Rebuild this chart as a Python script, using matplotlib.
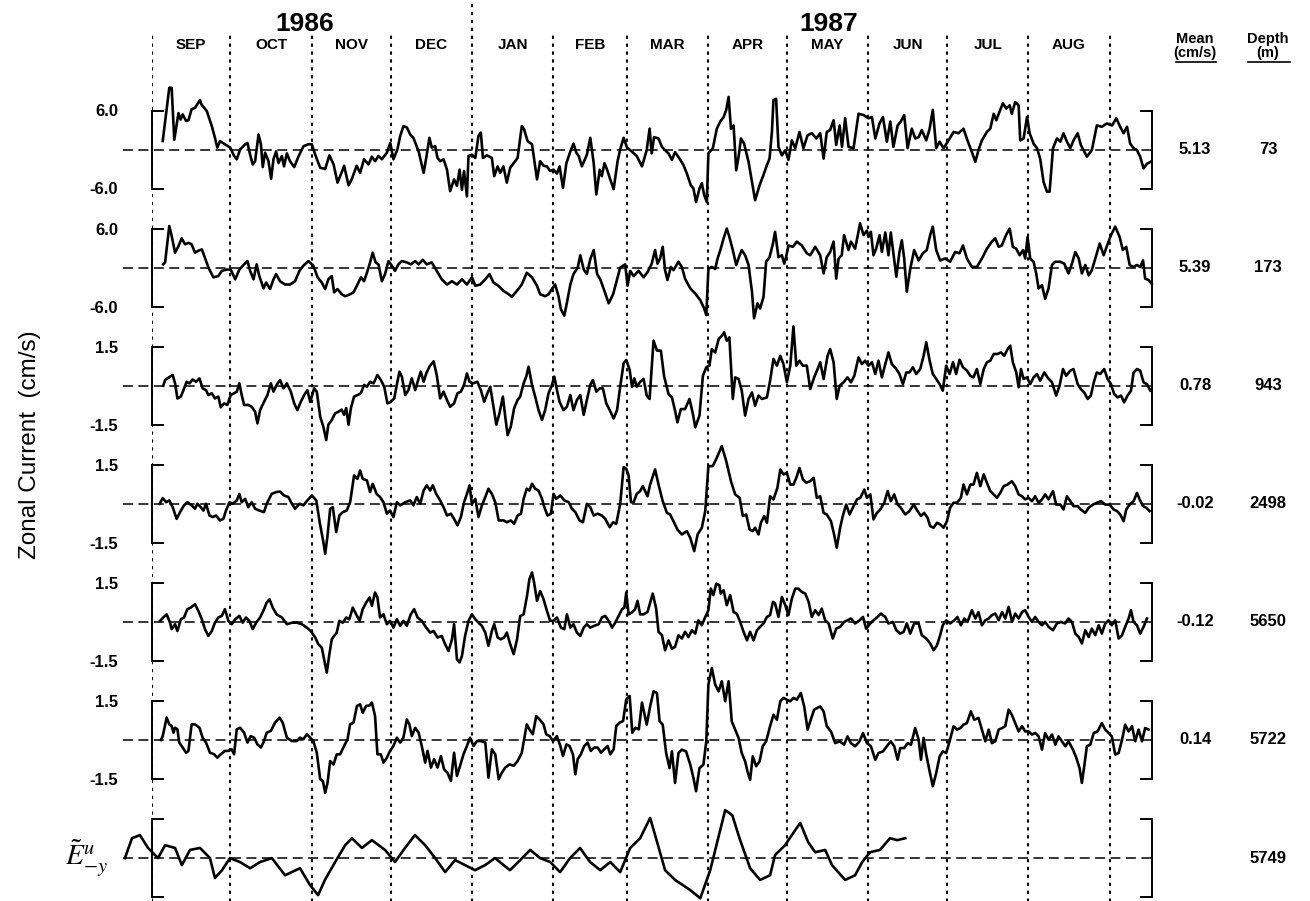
import numpy as np
import matplotlib.pyplot as plt

plt.rcParams['font.family'] = ['Liberation Sans', 'DejaVu Sans']
plt.rcParams['mathtext.fontset'] = 'stix'

# time axis: days since 1 Sep 1986
months = ['SEP', 'OCT', 'NOV', 'DEC', 'JAN', 'FEB', 'MAR', 'APR', 'MAY', 'JUN', 'JUL', 'AUG']
month_starts = [0, 30, 61, 91, 122, 153, 181, 212, 242, 273, 303, 334, 365]
day_end = 381

depths = ['73', '173', '943', '2498', '5650', '5722', '5749']
means = ['5.13', '5.39', '0.78', '-0.02', '-0.12', '0.14', '']
limits = [6.0, 6.0, 1.5, 1.5, 1.5, 1.5, 1.0]
tick_labels = [['-6.0', '6.0'], ['-6.0', '6.0'], ['-1.5', '1.5'], ['-1.5', '1.5'],
               ['-1.5', '1.5'], ['-1.5', '1.5'], None]

# (day, zonal current anomaly cm/s)
u_73 = [(4.2,1.3),(6.7,9.5),(7.6,9.5),(8.6,1.5),(10.2,5.6),(11.0,4.6),(11.8,5.4),(13.1,4.4),(14.0,4.5),(15.2,6.2),(16.5,6.4),(18.4,7.6),(19.0,6.9),(21.0,5.9),(22.9,3.6),(24.1,1.8),(25.0,0.3),(26.0,1.3),(27.9,0.8),(29.9,0.3),(31.4,-1.0),(32.4,-1.5),(33.7,0.0),(35.6,0.8),(36.5,1.0),(37.5,-0.8),(38.5,-2.3),(39.4,-1.8),(40.7,2.3),(41.6,0.8),(42.3,-2.7),(43.2,-0.5),(44.5,-1.8),(45.5,-4.5),(46.4,-1.5),(47.4,-0.3),(48.3,-2.1),(49.6,-1.0),(50.4,-2.6),(51.5,-0.6),(52.7,-1.8),(54.3,-2.7),(55.9,-1.1),(57.8,0.5),(59.7,0.8),(61.0,0.8),(62.3,-0.8),(64.2,-2.8),(66.1,-3.0),(67.7,-0.9),(69.3,-2.3),(70.8,-5.1),(72.4,-3.5),(73.3,-2.5),(75.0,-5.5),(76.2,-4.6),(78.1,-2.5),(79.4,-3.6),(80.9,-1.5),(82.6,-2.3),(83.9,-1.1),(85.1,-1.8),(86.4,-1.0),(87.7,-1.5),(89.6,-0.5),(90.9,1.0),(92.1,-1.5),(93.6,0.0),(94.7,2.1),(95.9,3.6),(97.2,3.4),(98.5,2.3),(99.7,1.8),(101.7,-0.3),(103.6,-3.6),(104.6,-1.3),(105.8,1.8),(106.7,0.3),(108.0,0.5),(108.9,-1.3),(109.9,-1.8),(111.2,-1.5),(112.5,-3.1),(113.7,-6.4),(115.2,-4.6),(116.3,-5.6),(117.3,-3.1),(118.2,-6.2),(119.0,-3.3),(120.1,-7.2),(120.7,-1.0),(122.0,-0.8),(123.3,-1.3),(124.5,2.1),(125.4,2.6),(126.2,-1.3),(127.7,-0.9),(129.6,-1.3),(130.5,-4.1),(131.8,-2.6),(132.8,-3.6),(134.0,-2.6),(135.3,-5.1),(136.6,-2.8),(137.9,-2.1),(139.4,-1.3),(141.0,3.6),(141.9,3.1),(143.2,1.3),(144.9,0.8),(146.1,-2.6),(146.8,-4.6),(148.0,-1.8),(149.3,-2.5),(150.6,-2.6),(151.8,-3.3),(153.1,-3.1),(154.4,-3.7),(155.4,-2.6),(156.7,-5.9),(158.0,-2.1),(159.5,-0.3),(160.7,0.9),(161.8,-0.5),(162.7,-1.0),(163.9,-2.6),(165.8,-0.8),(167.1,1.8),(168.4,-2.1),(169.4,-6.9),(170.7,-3.1),(171.5,-4.1),(172.5,-2.1),(173.5,-3.1),(174.7,-4.6),(176.0,-6.1),(177.5,-1.8),(178.5,0.0),(179.8,1.8),(181.1,0.3),(182.9,-0.3),(184.8,-1.0),(186.8,-2.6),(188.6,-0.1),(189.7,3.2),(190.5,-0.6),(191.4,1.9),(193.1,1.7),(194.4,0.4),(195.6,-0.1),(196.9,-0.6),(198.2,-1.6),(199.4,-0.4),(201.1,-1.4),(202.6,-2.4),(203.9,-3.7),(205.4,-5.5),(206.4,-6.0),(207.4,-8.1),(208.7,-6.0),(209.6,-5.2),(210.5,-7.0),(211.5,-8.1),(212.1,-0.6),(213.8,0.2),(215.3,3.2),(216.6,4.3),(217.9,5.0),(218.9,6.1),(219.8,8.1),(220.7,3.2),(221.7,3.7),(222.7,-3.2),(223.6,-1.1),(224.5,1.7),(225.7,0.9),(227.4,-1.9),(228.7,-5.0),(229.9,-7.8),(231.6,-5.5),(233.1,-3.9),(234.4,-2.4),(235.4,-1.4),(236.3,2.7),(236.9,7.6),(237.9,7.8),(238.8,0.4),(240.1,-0.9),(241.4,-0.1),(242.6,-1.6),(243.9,1.4),(245.2,0.2),(246.8,2.7),(248.3,0.2),(249.9,2.2),(251.5,2.5),(253.2,1.7),(254.7,2.5),(256.0,-1.4),(257.2,2.7),(258.5,3.0),(259.8,4.5),(260.8,0.7),(262.1,3.7),(263.0,0.4),(264.2,4.8),(265.5,0.4),(267.4,0.2),(269.3,5.5),(271.2,5.3),(273.1,4.8),(274.4,5.0),(275.7,1.7),(277.3,4.0),(278.6,5.0),(280.1,1.2),(281.4,4.3),(282.6,0.4),(284.2,3.7),(285.4,4.3),(286.7,5.3),(288.0,0.2),(289.6,3.2),(290.9,1.7),(292.2,1.9),(293.4,3.0),(295.1,1.4),(296.4,3.2),(297.6,6.1),(298.9,0.2),(300.2,1.2),(301.7,0.2),(303.6,1.4),(305.5,2.7),(307.4,2.5),(309.3,3.2),(310.8,1.4),(312.5,-0.4),(313.8,-1.9),(315.0,-0.1),(316.3,1.4),(318.2,2.7),(319.5,3.2),(320.8,5.5),(321.8,4.5),(323.0,5.8),(324.3,7.1),(325.6,6.3),(326.9,6.8),(327.7,5.5),(329.0,7.3),(330.3,6.8),(330.9,1.4),(332.2,1.7),(333.5,5.0),(334.5,2.5),(336.0,0.9),(337.3,0.2),(338.5,-1.4),(339.8,-5.0),(341.1,-6.5),(342.1,-6.5),(343.4,0.2),(344.9,1.7),(346.2,1.2),(347.4,2.5),(348.7,1.2),(350.0,0.2),(351.2,1.4),(352.8,2.5),(354.0,0.7),(356.3,-1.1),(358.2,-0.1),(360.1,3.7),(362.0,3.5),(363.9,4.0),(365.9,3.7),(367.5,4.8),(369.0,3.5),(370.3,2.5),(371.6,3.5),(372.8,0.9),(374.1,0.2),(375.4,-0.1),(376.6,-1.1),(377.9,-2.9),(379.2,-2.2),(380.5,-1.9)]

u_173 = [(4.4,0.5),(5.1,0.8),(6.7,6.4),(7.6,4.9),(8.9,2.3),(10.2,3.3),(11.4,4.5),(12.7,3.6),(14.0,3.8),(15.2,3.6),(16.5,2.3),(17.8,2.6),(19.1,2.8),(20.3,1.5),(21.6,0.0),(23.5,-1.5),(25.4,-1.3),(26.7,-0.5),(28.6,-0.3),(30.1,-0.3),(31.8,-1.8),(33.4,-0.3),(35.2,0.5),(36.5,1.0),(37.5,-0.5),(38.8,-1.8),(40.0,0.5),(41.0,-1.3),(42.6,-3.2),(43.6,-2.3),(45.1,-3.3),(46.4,-1.8),(47.4,-1.0),(48.9,-2.1),(50.8,-2.6),(52.7,-2.6),(54.6,-2.1),(56.3,-0.5),(57.8,0.3),(59.7,1.0),(61.6,0.3),(63.2,-1.5),(64.8,-2.3),(66.1,-3.3),(67.3,-1.8),(68.6,-1.3),(69.5,-3.8),(70.8,-3.3),(72.4,-4.1),(73.7,-4.4),(75.6,-4.1),(76.9,-3.8),(78.4,-2.6),(79.7,-1.5),(80.9,-2.1),(82.0,-0.8),(83.0,0.5),(84.2,2.3),(85.3,0.8),(86.4,0.5),(87.7,-2.1),(88.9,-1.0),(90.2,1.0),(91.5,0.3),(92.7,-0.5),(94.0,0.5),(95.3,1.0),(97.2,0.8),(98.7,0.5),(100.4,1.0),(101.7,0.5),(103.3,1.2),(104.8,0.5),(106.7,0.8),(108.6,-0.5),(110.5,-1.8),(112.5,-2.6),(114.4,-2.1),(116.3,-2.6),(118.2,-1.8),(120.1,-2.6),(122.0,-1.5),(123.3,-2.8),(125.2,-2.6),(127.1,-1.8),(128.7,-1.0),(130.2,-2.3),(132.1,-2.8),(134.1,-3.6),(136.0,-4.1),(137.2,-4.5),(139.1,-3.6),(141.0,-2.6),(142.9,-0.8),(144.9,-1.5),(146.8,-2.8),(148.0,-4.1),(149.9,-4.4),(151.2,-4.1),(152.5,-3.3),(153.7,-2.6),(155.0,-4.4),(155.9,-6.4),(157.2,-7.4),(158.2,-5.4),(159.5,-2.6),(160.7,-1.0),(162.3,0.0),(163.3,1.9),(164.6,-0.3),(165.8,-1.0),(167.1,1.3),(168.4,2.7),(169.7,-1.0),(170.9,-1.8),(172.5,-3.6),(174.1,-5.5),(175.8,-4.1),(177.3,-1.8),(178.5,0.0),(180.4,0.5),(181.3,-2.8),(182.3,-0.5),(183.6,-1.3),(185.5,-0.5),(187.4,-1.5),(188.9,-0.7),(190.5,0.6),(191.8,2.7),(192.7,0.6),(193.7,1.4),(194.7,3.2),(195.6,-0.4),(196.5,-1.9),(197.8,0.1),(198.8,-0.4),(200.7,0.9),(202.0,0.1),(203.2,-1.7),(205.2,-3.2),(207.1,-4.0),(209.0,-5.0),(210.5,-6.3),(211.3,-7.3),(212.1,-0.2),(213.4,0.1),(214.7,-0.2),(215.6,1.4),(216.8,2.9),(217.9,4.5),(219.1,6.0),(220.1,4.7),(221.4,2.7),(222.7,0.4),(224.0,1.9),(224.8,2.7),(226.1,1.9),(227.4,0.4),(228.7,-3.7),(229.5,-7.8),(230.8,-5.5),(231.8,-6.3),(233.1,-4.5),(234.1,0.9),(235.4,1.6),(236.7,3.7),(237.5,5.5),(238.8,1.6),(240.1,1.9),(241.0,0.6),(241.7,1.6),(242.6,3.4),(244.3,3.2),(245.8,4.0),(247.7,3.4),(249.6,2.2),(250.9,1.9),(252.8,3.2),(254.7,1.9),(256.0,-0.9),(257.2,1.6),(258.5,2.4),(259.8,4.0),(260.8,-1.7),(261.7,1.4),(262.9,1.9),(263.8,5.0),(265.5,2.7),(266.4,4.0),(268.0,2.9),(269.9,6.8),(271.2,5.0),(272.5,5.7),(273.1,4.7),(274.0,5.5),(275.0,1.9),(276.0,2.9),(277.3,5.0),(278.2,2.4),(279.5,5.4),(280.7,1.9),(281.6,5.4),(282.6,2.2),(283.7,-1.4),(284.9,2.4),(285.8,4.2),(286.7,1.4),(287.7,-3.7),(289.0,-0.2),(290.5,2.7),(292.2,1.1),(293.8,2.2),(295.3,2.7),(296.6,5.0),(297.6,6.3),(298.9,2.7),(300.4,1.1),(302.3,1.4),(304.2,0.9),(306.1,2.4),(307.8,2.2),(309.1,3.4),(310.6,1.4),(312.5,0.1),(314.4,0.1),(316.3,1.4),(318.2,2.9),(320.1,4.0),(321.4,4.5),(322.7,3.2),(323.9,3.4),(325.5,5.0),(326.9,6.0),(328.1,3.2),(329.4,2.9),(330.7,1.9),(332.0,2.7),(332.8,1.4),(333.7,4.7),(334.7,1.4),(336.0,0.9),(337.0,-0.9),(337.9,-3.2),(339.2,-2.7),(340.4,-4.8),(341.7,-3.2),(343.0,0.4),(344.2,0.9),(346.2,0.9),(347.7,0.6),(349.3,-0.9),(350.6,0.6),(351.9,2.4),(353.2,1.4),(354.4,-0.9),(355.7,0.4),(357.0,-1.2),(358.2,-0.4),(359.5,1.4),(361.2,3.7),(362.7,1.9),(364.0,3.4),(365.5,5.0),(367.1,6.3),(368.8,4.7),(370.0,2.7),(371.3,3.2),(372.6,0.4),(373.9,0.1),(375.4,0.4),(376.6,0.1),(377.7,1.1),(378.5,-1.7),(379.8,-1.9),(381.0,-2.5)]

u_943 = [(4.4,0.0),(5.1,0.22),(7.0,0.35),(8.0,0.41),(8.9,0.09),(9.8,-0.49),(11.1,-0.42),(12.1,-0.17),(13.3,0.15),(14.4,0.09),(15.6,0.24),(16.9,0.15),(18.2,0.28),(19.4,-0.10),(20.7,-0.17),(21.6,-0.36),(22.9,-0.29),(24.1,-0.49),(25.4,-0.42),(26.3,-0.83),(27.6,-0.68),(28.8,-0.74),(30.1,-0.36),(31.4,-0.29),(32.4,-0.23),(33.4,0.09),(34.3,-0.36),(35.2,-0.74),(36.8,-0.74),(38.1,-0.81),(39.4,-1.0),(40.3,-1.45),(41.3,-0.94),(42.8,-0.62),(44.1,-0.36),(45.4,0.09),(46.4,-0.23),(47.6,0.03),(48.9,0.22),(50.2,-0.10),(51.5,0.09),(53.0,-0.23),(54.3,-0.68),(55.5,-0.94),(56.8,-0.62),(58.1,-0.36),(59.3,-0.17),(60.4,-0.62),(61.9,-0.10),(62.9,-0.23),(64.2,-1.19),(65.4,-1.58),(66.5,-2.09),(67.3,-1.5),(68.6,-1.32),(69.9,-1.06),(71.2,-1.0),(72.4,-0.92),(73.3,-1.12),(74.1,-0.86),(75.0,-1.5),(75.9,-0.86),(77.1,-0.42),(78.4,-0.36),(79.7,-0.29),(80.9,0.03),(82.0,-0.04),(83.2,0.15),(84.5,0.09),(86.0,0.41),(87.3,0.22),(88.6,-0.04),(89.8,-0.68),(91.1,-0.62),(92.4,-0.49),(93.6,0.15),(94.4,0.54),(95.3,0.35),(96.6,-0.36),(97.8,-0.17),(99.1,0.28),(100.4,-0.17),(101.7,0.28),(102.5,0.54),(103.6,0.15),(104.6,0.47),(105.8,0.73),(107.4,0.94),(108.6,0.41),(109.9,-0.49),(111.2,-0.23),(112.5,-0.55),(113.7,-0.81),(115.2,-0.68),(116.5,-0.29),(117.8,-0.23),(119.0,0.03),(120.1,0.47),(121.1,0.15),(122.4,0.09),(124.1,0.15),(125.4,-0.17),(126.7,-0.62),(127.9,-0.29),(129.0,-0.04),(130.0,-0.68),(131.3,-1.5),(132.5,-1.06),(133.8,-0.42),(134.7,-1.19),(135.6,-1.9),(136.8,-1.58),(138.1,-0.86),(139.4,-0.55),(140.4,-0.42),(141.7,0.09),(142.7,0.35),(143.6,0.73),(144.9,0.03),(146.1,-0.42),(147.4,-0.94),(148.7,-1.32),(149.9,-0.94),(151.2,-0.29),(152.5,0.03),(153.4,0.35),(154.4,-0.17),(155.4,-0.62),(156.9,-0.94),(158.2,-0.81),(159.5,-0.36),(160.7,-0.94),(162.0,-0.55),(163.3,-0.36),(164.6,-1.12),(165.8,-0.55),(167.1,0.03),(168.1,0.22),(169.4,-0.23),(170.7,-0.10),(171.9,-0.10),(173.2,-0.68),(174.5,-0.94),(176.0,-1.26),(177.3,-0.94),(178.5,-0.04),(179.8,0.86),(180.8,0.99),(182.1,0.61),(183.0,-0.04),(183.9,0.28),(184.8,-0.04),(186.1,0.15),(187.4,0.26),(188.6,-0.38),(189.7,-0.51),(191.2,1.73),(192.5,1.35),(194.0,1.35),(195.2,0.38),(196.9,-0.32),(198.2,-0.45),(199.4,-0.96),(200.3,-1.41),(201.6,-0.90),(203.2,-0.90),(204.9,-0.51),(206.2,-1.09),(207.1,-1.60),(208.7,-1.15),(210.0,0.38),(211.3,0.71),(212.5,0.77),(213.4,1.41),(214.7,1.28),(216.0,1.79),(217.2,1.92),(218.1,2.05),(219.1,1.73),(220.1,1.86),(221.4,-0.51),(222.3,0.32),(223.6,0.26),(224.8,-0.19),(226.1,-1.15),(227.4,-0.51),(228.7,-0.26),(229.9,-0.77),(231.2,-0.38),(232.5,-0.51),(234.4,-0.45),(235.6,0.19),(236.9,1.03),(238.2,0.77),(239.5,1.15),(240.7,0.83),(242.0,0.13),(243.3,0.77),(244.5,2.28),(245.6,0.77),(246.8,0.96),(248.1,0.77),(249.6,0.77),(250.9,-0.13),(252.4,0.32),(253.7,0.64),(254.7,0.90),(256.0,0.26),(257.5,1.15),(258.5,1.41),(259.8,0.90),(261.0,-0.51),(262.1,0.0),(263.6,0.13),(265.1,0.32),(266.4,0.13),(267.7,0.38),(269.3,1.09),(270.6,0.83),(271.8,0.96),(273.1,0.77),(274.4,0.90),(275.7,0.45),(276.9,0.96),(278.2,0.32),(279.5,0.83),(280.7,1.28),(282.0,0.83),(283.7,0.64),(284.9,0.45),(286.2,0.06),(287.5,0.51),(288.7,0.51),(290.0,0.71),(291.3,0.45),(292.8,0.64),(294.1,1.15),(295.1,1.67),(296.4,0.96),(297.6,0.45),(298.9,0.26),(300.2,0.06),(301.4,-0.19),(302.7,0.77),(304.0,0.45),(305.3,0.90),(306.5,0.45),(307.8,1.0),(309.1,0.71),(310.6,0.58),(311.9,0.38),(313.1,0.32),(314.4,0.64),(315.7,0.06),(317.0,0.64),(318.2,0.90),(319.5,0.96),(320.8,1.22),(322.3,1.22),(323.6,1.28),(324.8,1.15),(326.1,1.41),(327.1,1.54),(328.1,0.90),(329.4,0.51),(330.3,-0.06),(331.2,0.64),(332.2,0.26),(333.5,0.32),(334.7,0.06),(336.0,0.32),(337.3,0.45),(338.5,0.19),(340.1,0.51),(341.3,0.32),(343.0,0.13),(344.6,-0.38),(345.9,0.0),(347.2,0.64),(348.4,0.38),(350.0,0.58),(351.2,0.64),(352.8,0.06),(354.0,-0.13),(355.3,-0.26),(356.6,-0.51),(357.8,-0.38),(359.1,0.19),(360.1,0.51),(361.4,0.45),(362.9,0.64),(364.2,0.26),(365.5,0.06),(366.7,-0.32),(368.0,-0.45),(369.3,-0.38),(370.5,-0.64),(371.8,-0.38),(373.1,-0.19),(374.1,0.51),(375.4,0.64),(376.6,0.58),(377.9,0.13),(379.2,0.06),(380.5,-0.19)]

u_2498 = [(3.0,0.0),(4.2,0.22),(5.5,0.06),(6.7,0.13),(8.0,-0.13),(9.5,-0.58),(10.8,-0.32),(12.3,-0.06),(13.6,0.06),(15.2,-0.06),(16.5,-0.19),(17.4,0.0),(18.7,-0.13),(19.7,-0.26),(20.7,0.0),(22.0,-0.45),(23.3,-0.51),(24.5,-0.45),(26.0,-0.64),(27.3,-0.58),(28.3,-0.26),(29.6,0.06),(30.9,0.0),(32.4,0.13),(33.4,0.38),(34.3,0.06),(35.6,0.19),(36.8,-0.13),(38.1,0.06),(39.4,-0.19),(41.0,-0.26),(42.8,-0.32),(43.8,0.0),(45.7,0.38),(47.4,0.45),(48.9,0.47),(50.4,0.32),(52.1,0.26),(53.4,0.0),(54.6,-0.19),(56.3,0.0),(57.8,-0.06),(59.3,0.13),(61.0,0.32),(62.7,0.13),(64.0,-0.71),(65.4,-1.47),(66.1,-1.92),(67.0,-1.22),(68.0,-0.19),(69.0,-0.13),(70.3,-1.09),(71.5,-0.45),(72.8,-0.32),(74.3,-0.26),(75.6,0.06),(77.1,1.09),(78.4,0.96),(79.4,1.28),(80.4,0.96),(82.0,0.90),(83.2,0.45),(84.2,0.77),(85.7,0.38),(87.0,0.26),(88.3,0.06),(89.6,-0.38),(90.8,-0.26),(92.1,-0.51),(93.4,0.06),(94.7,-0.06),(96.6,0.06),(98.5,0.13),(99.7,-0.06),(101.0,0.26),(102.3,0.0),(103.6,0.51),(104.8,0.71),(106.1,0.51),(107.1,0.71),(108.4,0.38),(109.9,0.13),(111.2,-0.13),(112.5,-0.45),(114.0,-0.38),(115.2,-0.58),(116.5,-0.83),(117.8,-0.51),(119.0,0.06),(120.1,0.38),(121.1,0.71),(122.0,0.0),(123.3,0.19),(124.5,-0.51),(125.8,-0.06),(127.1,0.26),(128.3,0.58),(129.6,0.38),(130.9,0.06),(132.2,-0.64),(134.1,-0.64),(135.3,-0.71),(136.8,-0.64),(138.1,-0.77),(139.4,-0.45),(140.7,-0.38),(141.7,0.19),(142.9,0.58),(143.9,0.51),(144.9,0.77),(146.1,0.58),(147.4,0.51),(148.7,0.19),(149.6,-0.13),(150.8,-0.45),(152.1,-0.38),(153.1,0.38),(154.1,0.19),(155.7,0.32),(157.2,0.13),(158.9,0.06),(160.1,-0.19),(161.4,-0.32),(163.0,-0.64),(164.3,-0.71),(165.8,0.0),(167.1,-0.13),(168.4,-0.45),(169.9,-0.38),(171.5,-0.45),(172.8,-0.58),(174.5,-0.90),(175.8,-0.71),(177.0,-0.77),(178.5,0.0),(179.8,1.41),(180.8,1.35),(181.7,1.09),(182.6,0.06),(183.6,0.06),(184.8,0.38),(186.1,0.49),(187.1,0.68),(188.9,0.29),(189.9,0.74),(191.8,1.32),(193.1,0.74),(194.7,0.10),(196.3,-0.35),(197.5,-0.41),(198.8,-0.67),(200.3,-0.99),(202.0,-1.18),(203.9,-1.05),(205.2,-1.31),(206.7,-1.82),(208.0,-1.18),(209.6,-0.92),(210.9,-0.28),(212.1,1.45),(213.8,1.45),(215.3,1.77),(217.2,2.22),(218.9,1.64),(220.7,0.87),(222.3,0.36),(224.0,0.23),(225.2,-0.47),(226.5,-0.41),(227.8,-0.99),(229.0,-1.05),(229.9,-0.92),(231.2,-1.18),(232.1,-0.73),(233.4,-0.47),(234.4,-0.73),(235.6,0.29),(236.9,0.17),(238.4,0.62),(239.5,1.32),(240.7,1.13),(242.0,1.19),(243.3,0.74),(244.5,0.74),(245.6,1.0),(246.8,1.38),(248.1,0.94),(249.4,0.81),(250.9,0.87),(252.2,1.0),(253.4,0.23),(254.7,0.29),(256.0,-0.35),(257.2,-0.41),(258.8,-0.67),(260.0,-1.18),(261.0,-1.69),(262.3,-0.92),(263.3,-0.47),(264.6,-0.03),(265.9,-0.41),(267.4,-0.09),(268.7,0.17),(270.0,0.23),(271.5,0.55),(272.5,0.23),(273.8,0.36),(275.0,-0.60),(276.3,-0.35),(277.6,-0.22),(279.1,0.04),(280.4,0.49),(281.6,0.10),(282.9,0.36),(284.2,-0.03),(285.4,-0.15),(287.1,-0.41),(288.7,-0.28),(290.3,-0.03),(291.8,-0.28),(293.1,-0.47),(294.3,-0.35),(295.6,-0.54),(296.6,-0.86),(297.9,-0.92),(299.2,-0.73),(300.4,-0.79),(301.7,-0.92),(303.0,-0.67),(304.2,-0.15),(305.5,0.04),(306.8,0.04),(308.3,0.23),(309.3,0.74),(310.6,0.36),(311.9,0.74),(313.1,0.74),(314.4,1.19),(315.7,0.68),(317.0,1.13),(318.2,0.81),(319.5,0.49),(320.8,0.36),(322.0,0.23),(323.3,0.42),(324.6,0.68),(326.1,0.74),(327.7,0.87),(329.0,0.68),(330.3,0.36),(331.6,0.29),(332.8,0.17),(334.1,0.23),(335.4,0.10),(336.6,0.29),(337.9,0.04),(339.2,0.17),(340.4,0.36),(341.7,0.17),(343.4,0.49),(344.6,-0.03),(346.2,-0.03),(347.4,-0.22),(348.7,0.29),(350.0,0.10),(351.2,-0.09),(352.8,-0.09),(354.0,-0.22),(355.7,-0.35),(357.0,-0.15),(358.6,-0.03),(360.1,0.04),(361.7,0.10),(363.3,-0.03),(365.0,-0.03),(366.5,-0.22),(367.8,-0.28),(369.0,-0.41),(370.3,-0.67),(371.3,-0.22),(372.6,-0.03),(374.1,0.10),(375.4,0.42),(376.4,0.17),(377.7,-0.09),(378.9,-0.15),(380.2,-0.28)]

u_5650 = [(3.2,0.04),(4.4,0.17),(5.7,0.29),(7.0,-0.03),(7.6,-0.28),(8.9,-0.09),(9.8,-0.35),(11.1,0.10),(12.3,0.17),(13.6,0.49),(14.9,0.55),(16.5,0.68),(17.8,0.42),(19.1,0.10),(20.3,-0.28),(21.6,-0.54),(22.9,-0.35),(24.1,-0.03),(25.4,0.17),(26.7,0.23),(27.9,0.49),(29.2,0.04),(30.5,-0.09),(31.8,0.10),(33.4,0.23),(34.7,-0.03),(35.9,0.17),(37.2,0.04),(38.5,-0.28),(39.8,-0.03),(41.3,0.17),(42.8,0.49),(43.8,0.74),(44.9,0.87),(46.1,0.55),(47.6,0.29),(49.6,0.17),(51.5,-0.09),(53.4,-0.03),(55.3,-0.03),(57.2,-0.09),(59.1,-0.22),(60.6,-0.35),(62.3,-0.60),(63.5,-0.86),(64.8,-0.99),(65.7,-1.44),(66.7,-1.95),(67.7,-1.24),(68.6,-0.67),(69.5,-0.54),(70.5,-0.41),(71.5,0.04),(72.8,-0.03),(74.1,0.17),(75.3,0.10),(76.6,0.55),(77.9,0.29),(79.2,0.04),(80.4,0.49),(81.7,0.74),(83.0,0.94),(83.9,0.62),(85.1,1.13),(86.0,0.94),(87.0,0.17),(88.3,0.29),(89.6,-0.09),(90.8,0.04),(92.1,-0.22),(93.4,0.10),(94.7,-0.15),(95.9,0.04),(97.2,-0.15),(98.7,0.29),(100.0,0.49),(101.3,0.17),(102.9,0.04),(104.6,-0.22),(106.1,-0.41),(107.4,-0.35),(108.9,-0.60),(110.5,-0.54),(111.8,-0.86),(113.1,-1.12),(114.4,-0.67),(115.2,-0.09),(116.3,-1.44),(117.3,-1.56),(118.2,-1.31),(119.4,-0.54),(120.7,0.04),(122.0,0.29),(123.3,0.10),(124.5,-0.03),(125.8,-0.15),(127.1,-0.41),(128.3,-0.92),(129.6,-0.35),(130.5,-0.09),(131.8,-0.60),(133.0,-0.67),(134.3,-0.60),(135.3,-0.41),(136.6,-0.86),(137.9,-1.24),(139.2,-0.67),(140.4,0.23),(141.7,0.29),(143.0,1.0),(143.9,1.64),(144.9,1.90),(145.7,1.51),(146.8,0.81),(148.0,1.19),(149.3,0.87),(150.6,0.42),(151.8,0.04),(153.1,0.04),(154.4,0.17),(155.9,-0.22),(157.2,-0.28),(158.2,0.29),(159.5,-0.22),(160.7,-0.09),(162.0,-0.41),(163.3,-0.54),(164.6,-0.22),(165.8,-0.09),(167.1,-0.22),(168.6,-0.15),(170.3,-0.09),(171.5,0.17),(172.8,0.23),(174.1,0.04),(175.4,-0.22),(176.6,-0.03),(177.9,0.23),(179.2,0.49),(180.1,0.55),(180.8,1.13),(181.7,0.29),(182.9,0.36),(184.2,0.49),(185.1,0.81),(186.1,0.29),(187.4,0.29),(188.9,0.38),(190.9,1.09),(192.2,0.51),(193.1,-0.38),(194.4,-0.51),(195.6,-1.09),(196.9,-0.71),(198.2,-1.03),(199.4,-0.96),(200.7,-0.51),(202.0,-0.64),(203.2,-0.38),(204.5,-0.58),(205.8,-0.32),(207.1,-0.45),(208.3,0.06),(209.6,-0.13),(210.9,0.19),(212.1,0.45),(213.0,1.28),(214.0,1.03),(215.1,1.47),(216.3,1.41),(216.8,1.09),(217.9,1.22),(219.1,0.64),(220.4,1.03),(221.7,0.38),(222.9,0.32),(224.2,0.0),(225.5,-0.38),(226.8,-0.71),(228.0,-0.38),(229.3,-0.71),(230.6,-0.32),(231.8,-0.19),(233.1,-0.06),(234.4,0.19),(235.6,0.26),(236.7,0.77),(237.5,0.71),(238.8,0.19),(240.1,0.96),(241.4,0.64),(242.6,0.26),(243.9,0.90),(245.2,1.28),(246.4,1.28),(247.7,1.15),(249.0,1.09),(250.3,0.77),(251.5,0.19),(252.8,0.45),(254.1,0.26),(255.3,0.51),(256.6,0.06),(257.9,-0.06),(259.5,-0.64),(260.8,-0.26),(262.3,-0.19),(263.8,0.0),(265.1,0.06),(266.4,0.13),(268.0,-0.06),(269.7,0.06),(271.0,0.19),(272.2,-0.26),(273.8,-0.06),(275.0,0.06),(276.5,0.19),(277.8,0.32),(279.5,0.19),(280.7,-0.06),(282.4,0.0),(283.7,-0.32),(285.2,-0.45),(286.5,-0.38),(287.7,-0.06),(289.0,-0.45),(290.5,-0.06),(292.2,-0.06),(293.4,-0.51),(295.1,-0.64),(296.6,-0.83),(297.9,-1.09),(299.2,-0.90),(300.4,-0.51),(301.4,-0.13),(302.7,0.06),(304.2,-0.06),(305.8,0.06),(307.0,0.19),(308.3,-0.13),(309.6,0.13),(310.8,0.0),(312.5,0.45),(313.8,0.13),(315.0,0.38),(316.3,-0.13),(317.6,0.06),(318.9,0.13),(320.1,0.26),(321.4,0.32),(322.7,0.06),(324.0,0.38),(325.2,0.13),(326.5,0.58),(327.8,0.0),(329.0,0.32),(330.3,0.13),(331.6,0.38),(332.8,0.45),(334.1,0.19),(335.4,0.0),(336.6,0.19),(337.9,0.0),(339.2,-0.13),(340.4,0.0),(341.7,-0.19),(343.4,-0.32),(344.9,-0.06),(346.4,0.0),(348.0,-0.06),(349.3,0.13),(350.6,0.0),(351.9,-0.45),(353.2,-0.58),(354.4,-0.83),(355.7,-0.32),(357.0,-0.58),(358.2,-0.26),(359.5,-0.51),(360.8,-0.13),(362.0,-0.45),(363.3,-0.06),(364.6,0.06),(365.8,-0.13),(367.1,0.06),(368.4,-0.64),(369.7,-0.51),(370.9,-0.19),(372.2,0.13),(373.1,0.45),(374.1,0.0),(375.4,-0.13),(376.6,-0.45),(377.9,-0.19),(379.2,0.13)]

u_5722 = [(3.5,0.0),(4.2,0.15),(5.7,0.86),(6.7,0.60),(7.6,0.54),(8.3,0.28),(8.9,0.47),(9.8,0.41),(10.5,-0.10),(11.8,-0.29),(13.1,-0.49),(14.0,-0.42),(15.2,0.60),(16.5,0.60),(18.2,0.47),(19.4,0.09),(20.7,-0.10),(22.2,-0.49),(23.8,-0.55),(25.0,-0.68),(26.3,-0.55),(27.9,-0.42),(29.2,-0.42),(30.5,-0.36),(31.4,-0.55),(32.4,0.41),(33.7,0.47),(35.2,0.28),(36.5,-0.10),(37.7,0.15),(39.0,0.09),(40.3,-0.17),(41.6,-0.29),(42.8,-0.04),(43.8,0.28),(45.4,0.35),(47.0,0.67),(48.7,0.86),(49.9,0.67),(51.5,0.09),(53.4,-0.04),(55.3,-0.04),(56.5,0.09),(57.8,0.03),(59.1,0.22),(60.4,0.09),(61.6,-0.04),(62.9,-0.49),(64.2,-1.51),(65.2,-1.58),(66.1,-2.03),(67.0,-1.64),(68.0,-0.81),(69.3,-0.94),(70.5,-0.55),(71.8,-0.55),(73.3,-0.23),(74.6,0.03),(75.6,0.60),(76.9,0.67),(78.2,1.31),(79.4,1.37),(80.4,1.05),(81.7,1.31),(83.0,1.33),(83.9,1.44),(85.1,0.92),(86.0,-0.55),(87.3,-0.55),(88.3,-0.87),(89.6,-0.68),(90.8,-0.42),(92.1,-0.23),(93.4,0.09),(94.7,-0.10),(95.9,0.09),(97.2,0.79),(98.2,0.60),(99.1,0.15),(100.4,0.47),(101.7,0.28),(102.9,-0.23),(104.2,-0.87),(105.1,-0.42),(106.4,-1.06),(107.6,-0.74),(108.9,-1.06),(110.2,-0.62),(111.4,-1.13),(112.7,-1.26),(114.0,-1.58),(115.2,-0.49),(116.3,-1.38),(117.5,-0.99),(118.8,-0.55),(120.1,-0.23),(121.3,0.09),(122.6,-0.23),(123.9,-0.04),(125.4,-0.04),(127.1,-0.10),(128.3,-1.45),(129.6,-0.36),(130.9,-0.55),(132.2,-1.51),(133.4,-1.26),(134.7,-1.06),(136.3,-0.94),(137.9,-0.99),(139.4,-0.81),(141.0,-0.49),(141.9,0.03),(142.9,0.60),(143.9,0.41),(145.2,0.22),(146.5,0.92),(147.8,0.79),(149.3,0.60),(150.3,0.22),(151.6,0.15),(152.9,-0.04),(154.4,0.15),(155.7,-0.23),(156.7,-0.62),(158.0,-0.17),(159.2,-0.23),(160.5,-0.55),(161.4,-1.32),(162.3,-0.74),(163.5,-0.55),(164.8,-0.23),(166.1,-0.10),(167.3,-0.42),(168.6,-0.29),(169.9,-0.29),(171.2,-0.49),(172.4,-0.36),(173.7,-0.23),(174.7,-0.55),(176.0,-0.36),(177.0,0.54),(178.3,0.67),(179.6,0.73),(180.8,1.56),(182.1,1.69),(183.1,0.28),(184.3,0.47),(185.6,0.41),(186.8,1.44),(188.6,0.59),(189.9,1.29),(191.2,1.87),(192.5,1.81),(193.5,0.72),(194.7,0.59),(196.0,-0.50),(197.3,-1.08),(198.2,-0.44),(199.4,-1.65),(200.7,-0.50),(202.0,-0.37),(203.6,-0.44),(205.2,-0.95),(206.4,-1.46),(207.4,-1.97),(208.7,-1.08),(210.2,-0.95),(211.3,-0.05),(212.1,2.13),(213.4,2.77),(214.7,2.13),(216.0,1.87),(217.2,2.26),(218.5,1.49),(219.8,2.26),(221.0,0.72),(222.3,0.40),(223.6,0.08),(224.8,-0.50),(226.1,-0.82),(227.0,-1.21),(228.0,-1.53),(229.0,-0.63),(230.3,-1.01),(231.6,-0.82),(232.8,-0.24),(234.1,-0.05),(235.6,0.53),(236.9,0.97),(238.2,0.78),(239.5,1.49),(240.7,1.62),(242.0,1.55),(243.3,1.49),(244.5,1.62),(245.8,1.55),(247.3,1.81),(248.6,1.29),(249.9,0.40),(251.1,0.78),(252.4,1.17),(254.7,1.29),(256.0,1.10),(257.2,0.53),(258.8,0.33),(260.4,-0.12),(262.1,-0.05),(263.8,-0.18),(265.1,0.14),(266.4,-0.12),(268.0,-0.24),(269.7,-0.05),(271.0,0.27),(272.5,-0.12),(274.0,-0.24),(275.7,-0.76),(276.9,-0.50),(278.6,-0.44),(280.1,-0.24),(281.6,-0.05),(282.9,-0.24),(284.2,-0.76),(285.2,-0.31),(286.7,-0.31),(288.0,-0.12),(289.3,-0.18),(290.9,0.46),(292.2,0.01),(293.1,-0.76),(294.1,0.08),(295.1,-0.56),(296.4,-1.21),(297.6,-1.78),(298.9,-1.27),(300.2,-0.63),(301.4,-0.44),(302.7,-0.50),(304.0,-0.05),(305.5,0.53),(306.8,0.40),(308.1,0.46),(309.3,0.59),(310.6,0.65),(312.1,1.10),(313.4,0.78),(315.0,0.85),(316.3,0.40),(317.6,-0.05),(318.9,0.40),(320.1,-0.12),(321.4,-0.05),(322.7,0.40),(324.0,0.46),(325.2,0.53),(326.5,1.17),(327.7,0.97),(329.0,0.65),(330.3,0.33),(331.6,0.53),(332.8,0.33),(334.1,0.33),(335.4,0.21),(336.6,0.27),(337.9,0.14),(339.2,-0.37),(340.4,0.27),(341.7,0.01),(343.0,0.21),(344.3,-0.18),(345.5,0.14),(346.8,-0.05),(348.1,-0.24),(349.3,-0.05),(351.0,-0.37),(352.3,-0.69),(353.5,-1.08),(354.4,-1.65),(355.3,-1.01),(356.3,-0.24),(357.6,-0.18),(358.9,0.27),(360.4,0.33),(362.0,0.65),(363.3,0.40),(364.6,0.27),(365.8,0.14),(367.1,-0.56),(368.4,-0.50),(369.7,0.01),(370.9,0.59),(372.2,0.33),(373.5,0.53),(374.7,-0.05),(376.0,0.40),(377.3,-0.05),(378.5,0.46),(379.8,0.40)]

# estimated term, arbitrary units
e_5749 = [(-10.2,0.0),(-7.5,0.51),(-4.5,0.59),(-1.4,0.26),(2.4,0.0),(5.1,0.33),(8.9,0.26),(11.5,-0.18),(14.6,0.21),(18.4,0.26),(22.2,0.0),(24.1,-0.51),(26.8,-0.31),(29.8,0.0),(33.6,-0.10),(37.5,-0.26),(41.3,-0.10),(45.8,0.0),(50.8,-0.44),(56.5,-0.26),(60.3,-0.69),(63.4,-0.95),(66.0,-0.56),(69.9,-0.10),(73.7,0.33),(76.3,0.51),(80.1,0.26),(83.9,0.46),(88.9,0.21),(92.7,-0.10),(96.5,0.26),(100.3,0.59),(104.2,0.33),(108.0,0.0),(111.8,-0.36),(115.6,-0.05),(119.4,-0.18),(123.2,-0.31),(127.0,-0.18),(130.8,0.0),(136.5,-0.31),(140.4,-0.05),(144.2,0.21),(148.0,0.0),(151.8,-0.10),(155.6,-0.36),(159.4,0.0),(163.2,0.26),(167.0,-0.10),(170.9,-0.31),(174.7,-0.10),(178.5,-0.36),(182.3,0.26),(186.1,0.51),(189.9,1.03),(191.8,0.59),(195.6,-0.31),(199.4,-0.56),(205.2,-0.82),(209.0,-1.03),(212.8,-0.31),(216.6,0.72),(218.5,1.23),(221.2,1.10),(224.2,0.46),(228.0,-0.26),(231.8,-0.56),(235.6,-0.44),(237.5,0.08),(241.3,0.33),(245.2,0.72),(247.1,0.90),(250.1,0.41),(252.8,0.15),(256.6,0.21),(259.2,-0.18),(264.2,-0.56),(268.0,-0.44),(270.7,-0.10),(273.7,0.15),(277.5,0.21),(281.3,0.51),(284.0,0.46),(287.1,0.51)]

series = [u_73, u_173, u_943, u_2498, u_5650, u_5722, e_5749]

W, H = 1310, 901
fig = plt.figure(figsize=(W / 100, H / 100), dpi=100)

x_left, x_right = 151.7, 1151.7
ax_l = x_left / W
ax_w = (x_right - x_left) / W
row_c0, row_step, row_half = 149.5, 118.1, 39.0

# background axes for month separators and header
bg = fig.add_axes([ax_l, 0, ax_w, 1], zorder=0)
bg.set_xlim(0, day_end)
bg.set_ylim(0, 1)
bg.axis('off')
for d in month_starts:
    top = 1 - 3 / H if d == 122 else 1 - 36 / H
    bg.plot([d, d], [0, top], color='black', lw=1.5, linestyle=(0, (0.8, 3.0)),
            dash_capstyle='round')
for i, m in enumerate(months):
    mid = 0.5 * (month_starts[i] + month_starts[i + 1])
    bg.text(mid, 1 - 45 / H, m, ha='center', va='center', fontsize=11, fontweight='bold')
bg.text(58.4, 1 - 24 / H, '1986', ha='center', va='center', fontsize=19, fontweight='bold')
bg.text(258.0, 1 - 24 / H, '1987', ha='center', va='center', fontsize=19, fontweight='bold')

for i, data in enumerate(series):
    yc = row_c0 + row_step * i
    ax = fig.add_axes([ax_l, 1 - (yc + row_half) / H, ax_w, 2 * row_half / H], zorder=2)
    ax.patch.set_visible(False)
    lim = limits[i]
    ax.set_xlim(0, day_end)
    ax.set_ylim(-lim, lim)
    t, u = np.array(data).T
    ax.plot(t, u, color='black', lw=1.9, clip_on=False, solid_joinstyle='round')
    ax.plot([-11, day_end], [0, 0], color='black', lw=1.1, dashes=(6.5, 3.6), clip_on=False)
    for s in ['top', 'bottom']:
        ax.spines[s].set_visible(False)
    for s in ['left', 'right']:
        ax.spines[s].set_linewidth(1.4)
    ax.set_xticks([])
    ax.set_yticks([-lim, lim])
    ax.tick_params(axis='y', direction='in', length=8.5, width=1.4, right=True, pad=24)
    if tick_labels[i] is not None:
        ax.set_yticklabels(tick_labels[i], fontsize=12, fontweight='bold')
    else:
        ax.set_yticklabels([])
    fig.text(1195 / W, 1 - yc / H, means[i], ha='center', va='center', fontsize=12, fontweight='bold')
    fig.text(1268 / W, 1 - yc / H, depths[i], ha='center', va='center', fontsize=12, fontweight='bold')

fig.text(1195 / W, 1 - 39 / H, 'Mean', ha='center', va='center', fontsize=10.5, fontweight='bold')
fig.text(1195 / W, 1 - 53 / H, '(cm/s)', ha='center', va='center', fontsize=10.5, fontweight='bold')
fig.text(1268 / W, 1 - 39 / H, 'Depth', ha='center', va='center', fontsize=10.5, fontweight='bold')
fig.text(1268 / W, 1 - 53 / H, '(m)', ha='center', va='center', fontsize=10.5, fontweight='bold')
fig.add_artist(plt.Line2D([1176 / W, 1216 / W], [1 - 62 / H, 1 - 62 / H], color='black', lw=1.2))
fig.add_artist(plt.Line2D([1248 / W, 1290 / W], [1 - 62 / H, 1 - 62 / H], color='black', lw=1.2))

fig.text(30 / W, 1 - 445 / H, 'Zonal Current  (cm/s)', rotation=90, ha='center', va='center',
         fontsize=17.5)
fig.text(86 / W, 1 - 858 / H, r'$\tilde{E}^{u}_{-y}$', ha='center', va='center', fontsize=21)

fig.savefig('out.png', dpi=100)
